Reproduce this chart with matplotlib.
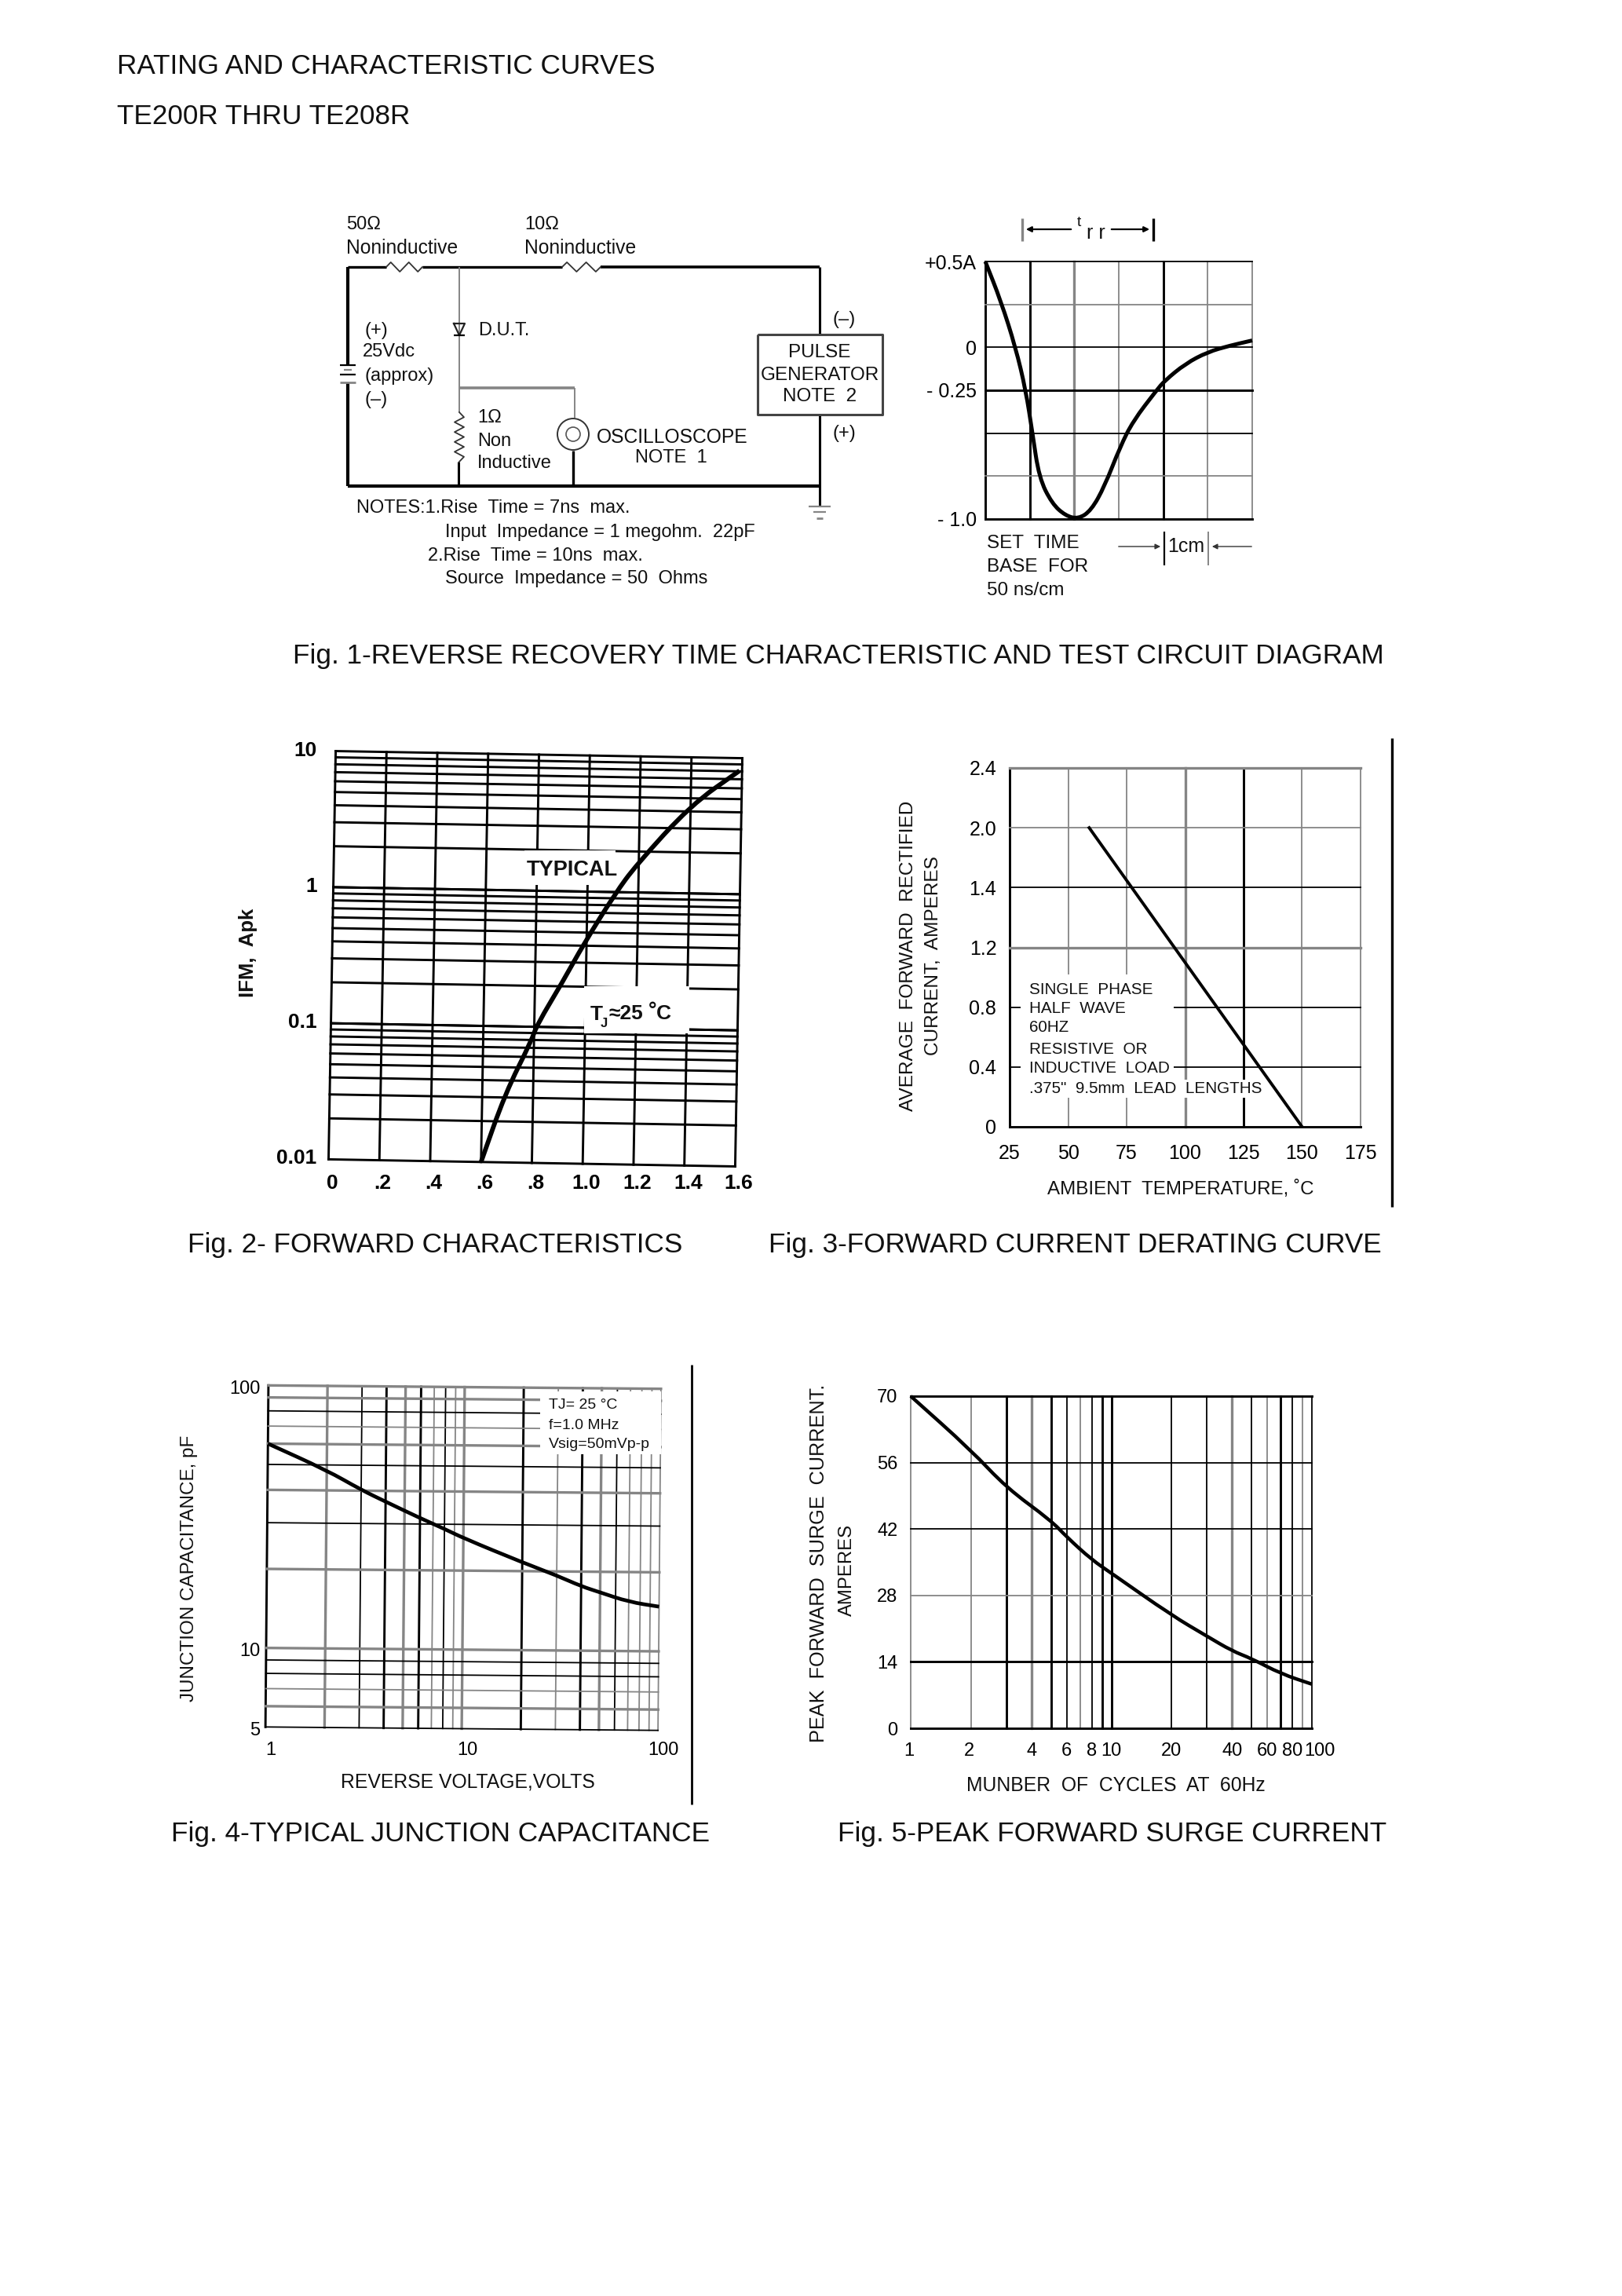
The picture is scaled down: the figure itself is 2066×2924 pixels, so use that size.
import matplotlib
matplotlib.use('Agg')
import numpy as np
from matplotlib import pyplot as plt
from matplotlib.patches import Rectangle, Circle, PathPatch
from matplotlib.path import Path
from matplotlib.transforms import Affine2D, ScaledTranslation

plt.rcParams['font.family'] = ['Liberation Sans', 'DejaVu Sans']

### data
# fig 1, recovery trace (cm, amperes)
trace_x = [0, 0.35, 0.68, 0.91, 1.06, 1.21, 1.5, 1.8, 2.09, 2.38, 2.68, 3.03, 3.32, 3.85, 4.03, 4.5, 5.0, 5.5, 6.0]
trace_y = [0.5, 0.27, 0.0, -0.25, -0.5, -0.76, -0.91, -0.98, -1.0, -0.95, -0.81, -0.58, -0.43, -0.25, -0.195, -0.095, -0.027, 0.01, 0.04]
trace_yticks = [0.5, 0, -0.25, -1.0]
trace_ylabels = ['+0.5A', '0', '- 0.25', '- 1.0']

# fig 2, forward characteristics
vf = [0.6, 0.69, 0.79, 0.81, 0.91, 0.99, 1.11, 1.19, 1.40, 1.59]
ifm = [0.01, 0.032, 0.079, 0.103, 0.218, 0.415, 0.98, 1.59, 4.44, 8.08]
vf_ticks = [0, 0.2, 0.4, 0.6, 0.8, 1.0, 1.2, 1.4, 1.6]
vf_labels = ['0', '.2', '.4', '.6', '.8', '1.0', '1.2', '1.4', '1.6']
ifm_ticks = [0.01, 0.1, 1, 10]
ifm_labels = ['0.01', '0.1', '1', '10']

# fig 3, derating
temp = [59, 150]
amps = [2.0, 0]
temp_ticks = [25, 50, 75, 100, 125, 150, 175]
amps_ticks = [0, 0.4, 0.8, 1.2, 1.6, 2.0, 2.4]
amps_labels = ['0', '0.4', '0.8', '1.2', '1.4', '2.0', '2.4']

# fig 4, junction capacitance
vr = [1, 2, 3, 4, 6, 8, 10, 20, 30, 40, 50, 70, 100]
cj = [60, 47.7, 40.3, 36.4, 31.6, 28.8, 26.6, 21.6, 19.3, 17.6, 16.7, 15.4, 14.8]
cj_grid = [5, 6, 7, 8, 9, 10, 20, 30, 40, 50, 60, 70, 80, 90, 100]

# fig 5, surge current
cycles = [1, 2, 3, 5, 6, 8, 10, 20, 30, 40, 50, 70, 100]
surge = [70, 58.6, 50.7, 43.8, 40.3, 35.5, 32.7, 23.8, 19.4, 16.3, 14.7, 11.5, 9.3]
cycle_ticks = [1, 2, 4, 6, 8, 10, 20, 40, 60, 80, 100]
surge_ticks = [0, 14, 28, 42, 56, 70]
surge_labels = ['0', '14', '28', '42', '56', '70']

log_grid = [1, 2, 3, 4, 5, 6, 7, 8, 9, 10, 20, 30, 40, 50, 60, 70, 80, 90, 100]

W, H = 2066, 2924
BLACK = '#000000'
GRAY = '#858585'

fig = plt.figure(figsize=(W / 100, H / 100), dpi=100, facecolor='white')

# page layer in reference pixels, for texts and the circuit
page = fig.add_axes([0, 0, 1, 1], zorder=5)
page.set_xlim(0, W)
page.set_ylim(H, 0)
page.axis('off')


def T(x, y, s, size=17, ha='left', **kw):
    page.text(x, y, s, fontsize=size, ha=ha, va='center', color='#111111', **kw)


def wire(xs, ys, lw=2.0, color=BLACK):
    page.plot(xs, ys, color=color, lw=lw, solid_capstyle='butt')


def make_chart(left, top, right, bottom, deg=0):
    ax = fig.add_axes([left / W, 1 - bottom / H, (right - left) / W, (bottom - top) / H], zorder=1)
    for s in ax.spines.values():
        s.set_visible(False)
    ax.tick_params(length=0)
    cx, cy = (left + right) / 2, H - (top + bottom) / 2
    ax.rot = Affine2D().rotate_deg_around(cx, cy, -deg)
    return ax


def grid(ax, xs, ys, xstyle, ystyle):
    # style codes: k black, K heavy black, g gray, G heavy gray
    styles = {'k': (BLACK, 1.3), 'K': (BLACK, 2.1), 'g': (GRAY, 1.3), 'G': (GRAY, 2.4)}
    tr = ax.transData + ax.rot
    x0, x1 = ax.get_xlim()
    y0, y1 = ax.get_ylim()
    for v, c in zip(xs, xstyle):
        ax.plot([v, v], [y0, y1], color=styles[c][0], lw=styles[c][1], transform=tr, clip_on=False, zorder=1)
    for v, c in zip(ys, ystyle):
        ax.plot([x0, x1], [v, v], color=styles[c][0], lw=styles[c][1], transform=tr, clip_on=False, zorder=1)
    ax.set_xlim(x0, x1)
    ax.set_ylim(y0, y1)


def mask(ax, x0, y0, x1, y1):
    ax.add_patch(Rectangle((x0, y0), x1 - x0, y1 - y0, fc='white', ec='none',
                           transform=page.transData, zorder=2, clip_on=False))


def curve(ax, x, y, lw=3.6):
    # smooth quadratic path through the read points, built in display space
    p = ax.transData.transform(np.column_stack([x, y]))
    mid = (p[:-1] + p[1:]) / 2
    verts = [p[0], mid[0]]
    codes = [Path.MOVETO, Path.LINETO]
    for i in range(1, len(p) - 1):
        verts += [p[i], mid[i]]
        codes += [Path.CURVE3, Path.CURVE3]
    verts.append(p[-1])
    codes.append(Path.LINETO)
    ax.add_patch(PathPatch(Path(verts, codes), fc='none', ec=BLACK, lw=lw,
                           transform=ax.rot, clip_on=False, zorder=3))


def shift_labels(labels, dx, dy):
    # move tick labels by reference pixels
    off = ScaledTranslation(dx / 100, dy / 100, fig.dpi_scale_trans)
    for tl in labels:
        tl.set_transform(tl.get_transform() + off)


### header and captions
T(149, 85, 'RATING AND CHARACTERISTIC CURVES', size=25.3)
T(149, 148, 'TE200R THRU TE208R', size=25.3)
T(373, 835, 'Fig. 1-REVERSE RECOVERY TIME CHARACTERISTIC AND TEST CIRCUIT DIAGRAM', size=25.3)
T(239, 1585, 'Fig. 2- FORWARD CHARACTERISTICS', size=25.3)
T(979, 1585, 'Fig. 3-FORWARD CURRENT DERATING CURVE', size=25.3)
T(218, 2335, 'Fig. 4-TYPICAL JUNCTION CAPACITANCE', size=25.3)
T(1067, 2335, 'Fig. 5-PEAK FORWARD SURGE CURRENT', size=25.3)

### Fig 1 circuit
wire([443, 492], [340, 340], 2.4)
wire([538, 716], [340, 340], 2.4)
wire([765, 1044], [340, 340], 2.6)
wire([443, 443], [340, 464], 3)
wire([443, 443], [487, 619], 3)
wire([443, 1044], [619, 619], 3)
wire([585, 585], [340, 525], 1.4, GRAY)
wire([585, 732], [494, 494], 2.6, GRAY)
wire([732, 732], [494, 532], 1.4, GRAY)
wire([730, 730], [574, 619], 2.4)
wire([584, 584], [588, 619], 2.2)
wire([1044, 1044], [340, 426], 2.2)
wire([1044, 1044], [528, 645], 2.2)
wire([965, 1124, 1124, 965, 965], [426, 426, 528, 528, 426], 2.2, '#444444')

# resistors
for x0, x1 in [(492, 538), (716, 765)]:
    zx = np.linspace(x0, x1, 9)
    zy = 340 + np.array([0, -6, 0, 6, 0, -6, 0, 6, 0])
    page.plot(zx, zy, color='#333333', lw=1.3)
zy = np.linspace(525, 588, 11)
zx = 585 + np.array([0, 6, -6, 6, -6, 6, -6, 6, -6, 6, 0])
page.plot(zx, zy, color='#333333', lw=1.3)

# diode, battery, ground, scope
page.plot([578, 592, 585, 578], [412, 412, 427, 412], color='#222222', lw=1.6)
wire([578, 592], [427, 427], 1.6)
wire([433, 453], [465, 465], 1.6)
wire([438, 448], [471, 471], 1.6, GRAY)
wire([433, 453], [477, 477], 1.6)
wire([433, 453], [487, 487], 2.0, GRAY)
wire([1030, 1058], [645, 645], 1.6, GRAY)
wire([1036, 1052], [652, 652], 1.6, GRAY)
wire([1040, 1048], [660, 660], 2.0, GRAY)
page.add_patch(Circle((730, 553), 20, fc='white', ec='#333333', lw=1.4, zorder=3))
page.add_patch(Circle((730, 553), 9, fc='white', ec='#555555', lw=1.2, zorder=3))

T(441, 286, '50Ω')
T(441, 316, 'Noninductive', size=17.7)
T(668, 286, '10Ω')
T(668, 316, 'Noninductive', size=17.7)
T(464, 421, '(+)')
T(462, 448, '25Vdc')
T(464, 479, '(approx)')
T(464, 509, '(–)')
T(609, 421, 'D.U.T.')
T(1060, 407, '(–)')
T(1044, 449, 'PULSE', size=17.5, ha='center')
T(1044, 478, 'GENERATOR', size=17.5, ha='center')
T(1044, 505, 'NOTE  2', size=17.5, ha='center')
T(1061, 552, '(+)')
T(608, 532, '1Ω')
T(608, 562, 'Non')
T(608, 590, 'Inductive')
T(760, 557, 'OSCILLOSCOPE', size=17.7)
T(855, 583, 'NOTE  1', ha='center')
T(454, 647, 'NOTES:1.Rise  Time = 7ns  max.')
T(567, 678, 'Input  Impedance = 1 megohm.  22pF')
T(545, 708, '2.Rise  Time = 10ns  max.')
T(567, 737, 'Source  Impedance = 50  Ohms')

### Fig 1 trace
ax1 = make_chart(1255, 333, 1595, 661)
ax1.set_xlim(0, 6)
ax1.set_ylim(-1.0, 0.5)
grid(ax1, [0, 1, 2, 3, 4, 5, 6], [-1.0, -0.75, -0.5, -0.25, 0, 0.25, 0.5],
     'KKGgKgg', 'KgkKkgk')
curve(ax1, trace_x, trace_y)
ax1.set_xticks([])
ax1.set_yticks(trace_yticks, trace_ylabels, fontsize=18)
ax1.tick_params(axis='y', pad=8)

wire([1302, 1302], [278, 307], 2.4, GRAY)
wire([1469, 1469], [278, 307], 2.4)
page.annotate('', xy=(1304, 292), xytext=(1367, 292), arrowprops=dict(arrowstyle='-|>', color=BLACK, lw=1.6))
page.annotate('', xy=(1467, 292), xytext=(1413, 292), arrowprops=dict(arrowstyle='-|>', color=BLACK, lw=1.6))
T(1372, 283, 't', size=14)
T(1384, 297, 'r r', size=18)
T(1257, 692, 'SET  TIME', size=17.5)
T(1257, 722, 'BASE  FOR', size=17.5)
T(1257, 752, '50 ns/cm', size=17.5)
wire([1483, 1483], [677, 720], 1.6)
wire([1539, 1539], [677, 720], 1.4, GRAY)
T(1511, 696, '1cm', size=18, ha='center')
page.annotate('', xy=(1481, 696), xytext=(1422, 696), arrowprops=dict(arrowstyle='-|>', color='#333333', lw=1.0))
page.annotate('', xy=(1541, 696), xytext=(1597, 696), arrowprops=dict(arrowstyle='-|>', color='#333333', lw=1.0))

### Fig 2
ax2 = make_chart(423, 961, 941, 1481, deg=1)
ax2.set_yscale('log')
ax2.set_xlim(0, 1.6)
ax2.set_ylim(0.01, 10)
minor2 = [m * d for d in [0.01, 0.1, 1] for m in range(1, 11)]
grid(ax2, vf_ticks, minor2, 'K' * 9, 'K' * len(minor2))
mask(ax2, 668, 1083, 784, 1127)
mask(ax2, 744, 1256, 878, 1316)
curve(ax2, vf, ifm, lw=4.2)
ax2.minorticks_off()
ax2.set_xticks(vf_ticks, vf_labels, fontsize=19, fontweight='bold')
ax2.set_yticks(ifm_ticks, ifm_labels, fontsize=19, fontweight='bold')
ax2.tick_params(axis='x', pad=10)
ax2.tick_params(axis='y', pad=14, which='both', length=0)
shift_labels(ax2.get_yticklabels(), 0, 8)
T(316, 1213, 'IFM,  Apk', size=18.5, ha='center', rotation=90, fontweight='bold')
T(671, 1108, 'TYPICAL', size=19.5, fontweight='bold')
T(752, 1292, 'T', size=19, fontweight='bold')
T(765, 1303, 'J', size=12, fontweight='bold')
T(775, 1291, '≈25', size=19, fontweight='bold')
T(826, 1287, '°', size=19, fontweight='bold')
T(836, 1291, 'C', size=19, fontweight='bold')

### Fig 3
ax3 = make_chart(1286, 978, 1733, 1435)
ax3.set_xlim(25, 175)
ax3.set_ylim(0, 2.4)
grid(ax3, temp_ticks, amps_ticks, 'KggGKgg', 'KkkGkgG')
mask(ax3, 1300, 1241, 1495, 1398)
mask(ax3, 1300, 1375, 1610, 1398)
ax3.plot(temp, amps, color=BLACK, lw=2.8, zorder=3)
ax3.set_xlim(25, 175)
ax3.set_ylim(0, 2.4)
ax3.set_xticks(temp_ticks, [str(t) for t in temp_ticks], fontsize=18)
ax3.set_yticks(amps_ticks, amps_labels, fontsize=18)
ax3.tick_params(axis='x', pad=16)
ax3.tick_params(axis='y', pad=12)
T(1157, 1217, 'AVERAGE  FORWARD  RECTIFIED', size=17.6, ha='center', rotation=90)
T(1189, 1217, 'CURRENT,  AMPERES', size=17.6, ha='center', rotation=90)
T(1504, 1514, 'AMBIENT  TEMPERATURE, ˚C', size=17.4, ha='center')
for yy, s in zip([1260, 1284, 1309, 1336, 1361, 1386],
                 ['SINGLE  PHASE', 'HALF  WAVE', '60HZ', 'RESISTIVE  OR', 'INDUCTIVE  LOAD', '.375"  9.5mm  LEAD  LENGTHS']):
    T(1311, yy, s, size=14.9)
wire([1773, 1773], [940, 1537], 2.4)

### Fig 4
ax4 = make_chart(340, 1766.5, 840, 2201.5, deg=0.5)
ax4.set_xscale('log')
ax4.set_yscale('log')
ax4.set_xlim(1, 100)
ax4.set_ylim(5, 100)
grid(ax4, log_grid, cj_grid,
     'KGkKGKgkgGKgKGkgggg', 'kGgkkGGkGkGgkGG')
mask(ax4, 688, 1772, 842, 1852)
curve(ax4, vr, cj, lw=3.4)
ax4.minorticks_off()
ax4.set_xticks([1, 10, 100], ['1', '10', '100'], fontsize=17)
ax4.set_yticks([5, 10, 100], ['5', '10', '100'], fontsize=17)
ax4.tick_params(axis='x', pad=12)
ax4.tick_params(axis='y', pad=6)
shift_labels(ax4.get_xticklabels(), 5, 0)
T(241, 1997, 'JUNCTION CAPACITANCE, pF', size=17.5, ha='center', rotation=90)
T(596, 2269, 'REVERSE VOLTAGE,VOLTS', size=17.8, ha='center')
T(699, 1789, 'TJ= 25 °C', size=14)
T(699, 1815, 'f=1.0 MHz', size=14)
T(699, 1840, 'Vsig=50mVp-p', size=14)
wire([881, 881], [1738, 2298], 2.0)

### Fig 5
ax5 = make_chart(1160, 1778, 1671, 2201)
ax5.set_xscale('log')
ax5.set_xlim(1, 100)
ax5.set_ylim(0, 70)
grid(ax5, log_grid, surge_ticks,
     'ggKGKkgkKKkkGkgKkgk', 'KKgkkK')
curve(ax5, cycles, surge, lw=3.2)
ax5.minorticks_off()
ax5.set_xticks(cycle_ticks, [str(c) for c in cycle_ticks], fontsize=17)
ax5.set_yticks(surge_ticks, surge_labels, fontsize=17)
ax5.tick_params(axis='x', pad=13)
ax5.tick_params(axis='y', pad=12)
shift_labels(ax5.get_xticklabels()[-1:], 10, 0)
shift_labels(ax5.get_xticklabels()[:2], -2, 0)
T(1043, 1991, 'PEAK  FORWARD  SURGE  CURRENT.', size=18.2, ha='center', rotation=90)
T(1079, 2000, 'AMPERES', size=17.2, ha='center', rotation=90)
T(1421, 2274, 'MUNBER  OF  CYCLES  AT  60Hz', size=17.8, ha='center')

fig.savefig('out.png', dpi=100)
